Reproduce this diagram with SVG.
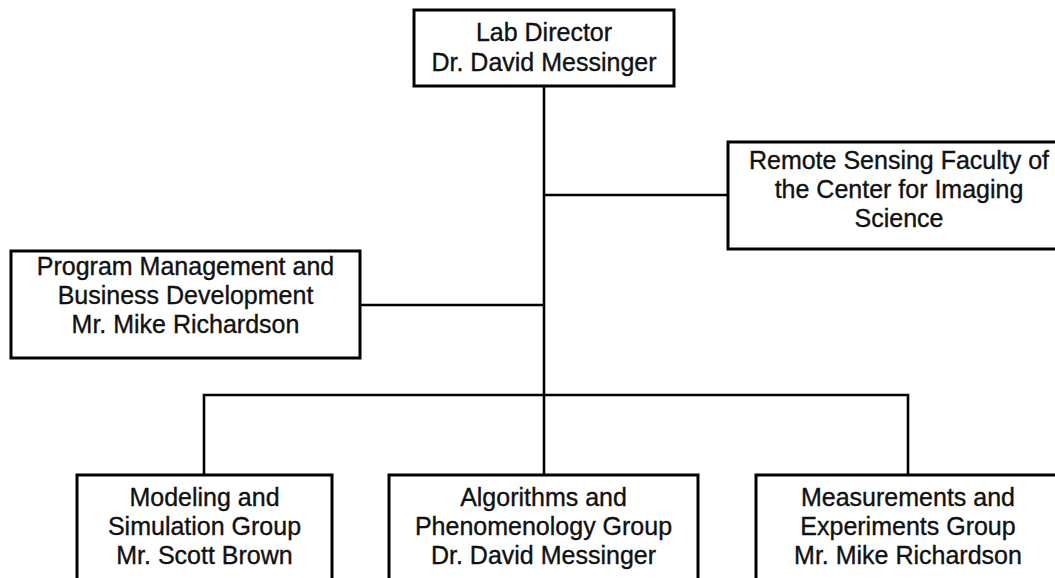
<svg xmlns="http://www.w3.org/2000/svg" width="1055" height="578" viewBox="0 0 1055 578">
<style>
.box{fill:#fff;stroke:#000;stroke-width:3}
.ln{fill:none;stroke:#000;stroke-width:2.6}
text{font-family:"Liberation Sans",Arial,sans-serif;font-size:25px;fill:#111;stroke:#111;stroke-width:0.35;text-anchor:middle}
</style>
<rect width="1055" height="578" fill="#fff"/>
<g id="connectors">
<path class="ln" d="M544 86V395"/>
<path class="ln" d="M544 195H728"/>
<path class="ln" d="M360 305H544"/>
<path class="ln" d="M204 475V395H908V475"/>
<path class="ln" d="M544 395V475"/>
</g>
<g id="director">
<rect class="box" x="414" y="10" width="260" height="76"/>
<text x="544" y="41">Lab Director</text>
<text x="544" y="71">Dr. David Messinger</text>
</g>
<g id="faculty">
<rect class="box" x="728" y="142" width="340" height="107"/>
<text x="899" y="169">Remote Sensing Faculty of</text>
<text x="899" y="198">the Center for Imaging</text>
<text x="899" y="227">Science</text>
</g>
<g id="program">
<rect class="box" x="11" y="251" width="349" height="107"/>
<text x="185.5" y="275">Program Management and</text>
<text x="185.5" y="304">Business Development</text>
<text x="185.5" y="333">Mr. Mike Richardson</text>
</g>
<g id="modeling">
<rect class="box" x="77" y="475" width="255" height="120"/>
<text x="204.5" y="506">Modeling and</text>
<text x="204.5" y="535">Simulation Group</text>
<text x="204.5" y="564">Mr. Scott Brown</text>
</g>
<g id="algorithms">
<rect class="box" x="389" y="475" width="309" height="120"/>
<text x="543.5" y="506">Algorithms and</text>
<text x="543.5" y="535">Phenomenology Group</text>
<text x="543.5" y="564">Dr. David Messinger</text>
</g>
<g id="measurements">
<rect class="box" x="756" y="475" width="304" height="120"/>
<text x="908" y="506">Measurements and</text>
<text x="908" y="535">Experiments Group</text>
<text x="908" y="564">Mr. Mike Richardson</text>
</g>
</svg>
